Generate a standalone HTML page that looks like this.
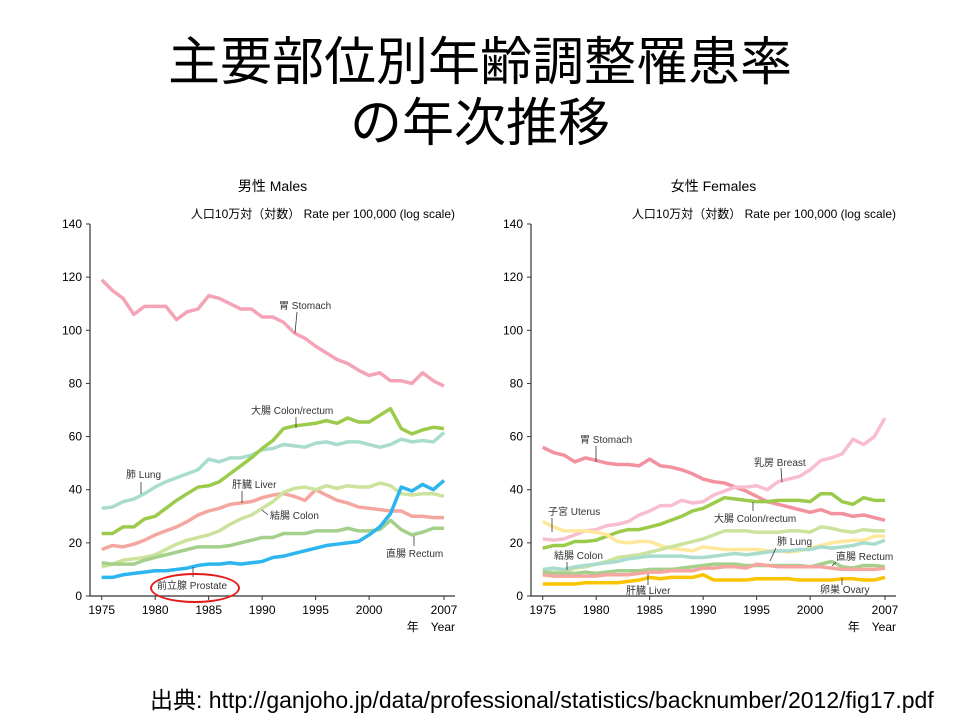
<!DOCTYPE html>
<html><head><meta charset="utf-8"><style>
body{margin:0;background:#fff;width:960px;height:720px;overflow:hidden;font-family:"Liberation Sans","Noto Sans CJK JP",sans-serif}
svg text{font-family:"Liberation Sans","Noto Sans CJK JP",sans-serif}
</style></head><body>
<svg id="s" width="960" height="720">
<text x="480" y="80" text-anchor="middle" font-size="52">主要部位別年齢調整罹患率</text>
<text x="480" y="141" text-anchor="middle" font-size="52">の年次推移</text>
<text x="150" y="708" font-size="23">出典: http://ganjoho.jp/data/professional/statistics/backnumber/2012/fig17.pdf</text>
</svg>
<script>
const years=[];for(let y=1975;y<=2007;y++)years.push(y);
const yTicks=[0,20,40,60,80,100,120,140];
const xTicks=[1975,1980,1985,1990,1995,2000,2007];
const mStomach=[119,115,112,106,109,109,109,104,107,108,113,112,110,108,108,105,105,103,99,97,94,91.5,89,87.5,85,83,84,81,81,80,84,81,79];
const mColorectum=[23.5,23.5,26,26,29,30,33,36,38.5,41,41.5,43,46,49,52,55.5,58.5,63,64,64.5,65,66,65,67,65.5,65.5,68,70.5,63,61,62.5,63.5,63];
const mLung=[33,33.5,35.5,36.5,38.5,41,43,44.5,46,47.5,51.5,50.5,52,52,53,55,55.5,57,56.5,56,57.5,58,57,58,58,57,56,57,59,58,58.5,58,61.5];
const mLiver=[17.5,19,18.5,19.5,21,23,24.5,26,28,30.5,32,33,34.5,35,35.5,37,38,38.5,37.5,36,40,38,36,35,33.5,33,32.5,32,32,30,30,29.5,29.5];
const mColon=[11,12,13.5,14,14.5,15.5,17.5,19.5,21,22,23,24.5,27,29,30.5,33,35.5,39,40.5,41,40,41.5,40.5,41.5,41,41,42.5,41.5,38.5,38,38.5,38.5,37.5];
const mRectum=[12.5,12,12,12,13.5,14.5,15.5,16.5,17.5,18.5,18.5,18.5,19,20,21,22,22,23.5,23.5,23.5,24.5,24.5,24.5,25.5,24.5,24.5,25,28.5,25,23,24,25.5,25.5];
const mProstate=[7,7,8,8.5,9,9.5,9.5,10,10.5,11.5,12,12,12.5,12,12.5,13,14.5,15,16,17,18,19,19.5,20,20.5,23,26,31,41,39.5,42,40,43.5];
const fStomach=[56,54,53,50.5,52,51,50,49.5,49.5,49,51.5,49,48.5,47.5,46,44,43,42.5,41,39.5,37.5,35.5,34.5,33.5,32.5,31.5,32.5,31,31,30,30.5,29.5,28.5];
const fBreast=[21.5,21,21.5,23,24.5,25,26.5,27,28,30.5,32,34,34,36,35,35.5,38,39.5,41,41,41.5,40,43,44,45,47.5,51,52,53.5,59,57,60,67];
const fColorectum=[18,19,19,20.5,20.5,21,22.5,24,25,25,26,27,28.5,30,32,33,35,37,36.5,36,35.5,35.5,36,36,36,35.5,38.5,38.5,35.5,34.5,37,36,36];
const fUterus=[28,26,24.5,24.5,24.5,24,23,20.5,20,20.5,20.5,19,18,17.5,17,18.5,18,17.5,17.5,17.5,17.5,17,17,16.5,17,18,19,20,20.5,21,21,22.5,22.5];
const fColon=[9,9,9,10.5,11,12,13,14.5,15,15.5,16.5,17.5,18.5,19.5,20.5,21.5,23,24.5,24.5,24.5,24,24,24,24.5,24.5,24,26,25.5,24.5,24,25,24.5,24.5];
const fLung=[10,10.5,10,11,11.5,12,12.5,13,14,14.5,15,15,15,15,14.5,14.5,15,15.5,16,15.5,16,16.5,17,17,17.5,17.5,18.5,18,18.5,19,20,19.5,21];
const fRectum=[9,8.5,8.5,8.5,9,8.5,9,9.5,9.5,9.5,10,10,10,10.5,11,11.5,12,12,12,11.5,11.5,11.5,11.5,11.5,11.5,11,12,13,11,10.5,11.5,11.5,11];
const fLiver=[8,7.5,7.5,7.5,7.5,7.5,8,8,8,8.5,9,9,9.5,9.5,9.5,10.5,10.5,11,11,10.5,12,11.5,11,11,11,11,11,10.5,10,10,10,10,10.5];
const fOvary=[4.5,4.5,4.5,4.5,5,5,5,5,5.5,6,7,6.5,7,7,7,8,6,6,6,6,6.5,6.5,6.5,6.5,6,6,6,6,6.5,6.5,6,6,7];

const NS='http://www.w3.org/2000/svg',svg=document.getElementById('s');
function el(t,a,p,txt){const e=document.createElementNS(NS,t);for(const k in a)e.setAttribute(k,a[k]);if(txt!=null)e.textContent=txt;(p||svg).appendChild(e);return e;}
function chart(cfg){
 const g=el('g',{});
 
 
 const ax=cfg.ax,x0=cfg.x0,x1=cfg.x1,right=cfg.right,top=224,bot=596;
 const X=y=>x0+(y-1975)*(x1-x0)/32, Y=v=>bot-v*(bot-top)/140;
 let t=el('text',{x:(ax+right)/2,y:191,'text-anchor':'middle','font-size':14},g,cfg.title);
 
 t=el('text',{x:right,y:218,'text-anchor':'end','font-size':12},g,'人口10万対（対数） Rate per 100,000 (log scale)');
 
 let a=el('path',{d:`M${ax} ${top}V${bot}H${right}`,stroke:'#333',fill:'none','stroke-width':1.2},g);
 
 yTicks.forEach(v=>{el('line',{x1:ax-4,x2:ax,y1:Y(v),y2:Y(v),stroke:'#333'},g);
  const tl=el('text',{x:ax-8,y:Y(v)+4,'text-anchor':'end','font-size':12},g,v);
  });
 xTicks.forEach(v=>{el('line',{x1:X(v),x2:X(v),y1:bot,y2:bot+4,stroke:'#333'},g);
  const tl=el('text',{x:X(v),y:bot+18,'text-anchor':'middle','font-size':12},g,v);
  });
 t=el('text',{x:right,y:631,'text-anchor':'end','font-size':12},g,'年　Year');
 
 cfg.series.forEach(s=>{
  const p=el('polyline',{points:s.d.map((v,i)=>X(years[i])+','+Y(v)).join(' '),fill:'none',stroke:s.c,'stroke-width':3.5,'stroke-linejoin':'round'},g);
  
 });
 cfg.labels.forEach(l=>{
  if(l.lx)el('line',{x1:l.lx[0],y1:l.lx[1],x2:l.lx[2],y2:l.lx[3],stroke:'#333','stroke-width':0.8},g);
  const tl=el('text',{x:l.x,y:l.y,'font-size':10,fill:'#333'},g,l.t);
  
 });
}
chart({name:'males-chart',title:'男性  Males',ax:90,x0:101.7,x1:444,right:455,
 series:[{n:'stomach',d:mStomach,c:'#f5a3b6'},{n:'lung',d:mLung,c:'#a9dccf'},{n:'colon-rectum',d:mColorectum,c:'#9ccb4c'},{n:'liver',d:mLiver,c:'#f6a6a0'},{n:'colon',d:mColon,c:'#cbe39c'},{n:'rectum',d:mRectum,c:'#a5d08b'},{n:'prostate',d:mProstate,c:'#2cb5ee'}],
 labels:[{t:'胃 Stomach',x:279,y:309,lx:[297,312,295,333]},{t:'大腸 Colon/rectum',x:251,y:414,lx:[296,417,296,428]},{t:'肺 Lung',x:126,y:478,lx:[141,482,141,494]},{t:'肝臓 Liver',x:232,y:488,lx:[242,491,242,503]},{t:'結腸 Colon',x:270,y:519,lx:[262,510,268,515]},{t:'直腸 Rectum',x:386,y:557,lx:[414,536,414,546]},{t:'前立腺 Prostate',x:157,y:589,lx:[193,567,193,577]}]});
chart({name:'females-chart',title:'女性  Females',ax:531,x0:542.7,x1:885,right:896,
 series:[{n:'stomach',d:fStomach,c:'#f4919f'},{n:'breast',d:fBreast,c:'#f9bdd0'},{n:'colon-rectum',d:fColorectum,c:'#9ccb4c'},{n:'uterus',d:fUterus,c:'#fde89c'},{n:'colon',d:fColon,c:'#cbe39c'},{n:'lung',d:fLung,c:'#a9dccf'},{n:'rectum',d:fRectum,c:'#a5d08b'},{n:'liver',d:fLiver,c:'#f6a6a0'},{n:'ovary',d:fOvary,c:'#fbc400'}],
 labels:[{t:'胃 Stomach',x:580,y:443,lx:[596,446,596,462]},{t:'乳房 Breast',x:754,y:466,lx:[781,468,782,482]},{t:'大腸 Colon/rectum',x:714,y:522,lx:[753,502,753,511]},{t:'子宮 Uterus',x:548,y:515,lx:[552,518,552,532]},{t:'肺 Lung',x:777,y:545,lx:[776,548,770,561]},{t:'結腸 Colon',x:554,y:559,lx:[567,562,567,570]},{t:'直腸 Rectum',x:836,y:560,lx:[836,562,832,566]},{t:'肝臓 Liver',x:626,y:594,lx:[648,574,648,585]},{t:'卵巣 Ovary',x:820,y:593,lx:[842,578,842,585]}]});
</script>
<div style="position:absolute;left:150px;top:573px;width:90px;height:30px;border:2px solid #e31b1b;border-radius:50%;box-sizing:border-box"></div>
</body></html>
